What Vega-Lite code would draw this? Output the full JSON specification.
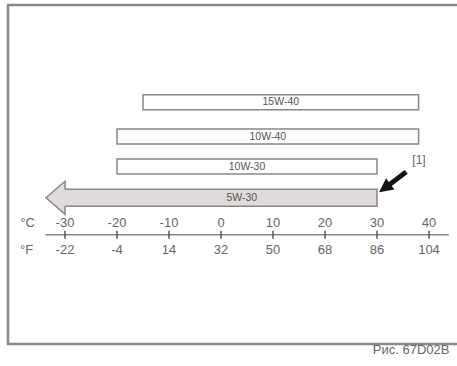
{
  "$schema": "https://vega.github.io/schema/vega-lite/v6.json",
  "width": 460,
  "height": 339,
  "autosize": {"type": "none"},
  "padding": {"left": 8, "top": 5, "right": 0, "bottom": 22},
  "config": {
    "view": {"stroke": "#8c8888", "strokeWidth": 2.5},
    "text": {"font": "Liberation Sans", "color": "#555555"}
  },
  "datasets": {
    "grades": [
      {"grade": "15W-40", "level": 4, "lo": -15, "hi": 38},
      {"grade": "10W-40", "level": 2.92, "lo": -20, "hi": 38},
      {"grade": "10W-30", "level": 1.98, "lo": -20, "hi": 30}
    ],
    "arrowgrade": [
      {"grade": "5W-30", "level": 1, "lo": -30, "hi": 30, "labelAt": 4}
    ],
    "temps": [
      {"c": -30, "f": -22},
      {"c": -20, "f": -4},
      {"c": -10, "f": 14},
      {"c": 0, "f": 32},
      {"c": 10, "f": 50},
      {"c": 20, "f": 68},
      {"c": 30, "f": 86},
      {"c": 40, "f": 104}
    ]
  },
  "layer": [
    {
      "data": {"name": "grades"},
      "mark": {"type": "bar", "height": 15, "fill": "white", "stroke": "#8a8686", "strokeWidth": 1.5, "cornerRadius": 0},
      "encoding": {
        "x": {"field": "lo", "type": "quantitative", "scale": {"domain": [-40.96, 47.5], "nice": false, "zero": false}, "axis": null},
        "x2": {"field": "hi"},
        "y": {"field": "level", "type": "quantitative", "scale": {"domain": [-3.432, 6.894], "nice": false, "zero": false}, "axis": null}
      }
    },
    {
      "data": {"name": "grades"},
      "transform": [{"calculate": "(datum.lo + datum.hi) / 2", "as": "mid"}],
      "mark": {"type": "text", "fontSize": 10.5, "baseline": "middle", "align": "center", "color": "#555555"},
      "encoding": {
        "x": {"field": "mid", "type": "quantitative"},
        "y": {"field": "level", "type": "quantitative"},
        "text": {"field": "grade"}
      }
    },
    {
      "data": {"name": "arrowgrade"},
      "mark": {"type": "bar", "height": 17, "fill": "#e0dbda", "stroke": "#8a8686", "strokeWidth": 1.5},
      "encoding": {
        "x": {"field": "lo", "type": "quantitative"},
        "x2": {"field": "hi"},
        "y": {"field": "level", "type": "quantitative"}
      }
    },
    {
      "data": {"name": "arrowgrade"},
      "mark": {"type": "point", "shape": "M -1.15 0 L 0 -1 L 0 -0.45 L 0.3 -0.45 L 0.3 0.45 L 0 0.45 L 0 1 Z", "size": 1089, "filled": true, "fill": "#e0dbda", "strokeWidth": 0, "opacity": 1},
      "encoding": {
        "x": {"field": "lo", "type": "quantitative"},
        "y": {"field": "level", "type": "quantitative"}
      }
    },
    {
      "data": {"name": "arrowgrade"},
      "mark": {"type": "point", "shape": "M 0 -0.515 L 0 -1 L -1.15 0 L 0 1 L 0 0.515", "size": 1089, "filled": false, "fill": null, "stroke": "#8a8686", "strokeWidth": 1.5, "opacity": 1},
      "encoding": {
        "x": {"field": "lo", "type": "quantitative"},
        "y": {"field": "level", "type": "quantitative"}
      }
    },
    {
      "data": {"name": "arrowgrade"},
      "mark": {"type": "text", "fontSize": 10.5, "baseline": "middle", "align": "center", "color": "#555555"},
      "encoding": {
        "x": {"field": "labelAt", "type": "quantitative"},
        "y": {"field": "level", "type": "quantitative"},
        "text": {"field": "grade"}
      }
    },
    {
      "data": {"values": [{"note": "[1]"}]},
      "mark": {"type": "point", "shape": "M 0 0 L 15.43 -2.88 L 12.71 -6.47 L 28.61 -18.51 L 25.59 -22.49 L 9.69 -10.45 L 6.97 -14.04 Z", "size": 4, "filled": true, "fill": "#111111", "strokeWidth": 0, "opacity": 1},
      "encoding": {
        "x": {"datum": 30.4},
        "y": {"datum": 1.17}
      }
    },
    {
      "data": {"values": [{"note": "[1]"}]},
      "mark": {"type": "text", "fontSize": 12, "align": "left", "baseline": "middle", "color": "#666666"},
      "encoding": {
        "x": {"datum": 36.8},
        "y": {"datum": 2.2},
        "text": {"field": "note"}
      }
    },
    {
      "data": {"values": [{"a": 1}]},
      "mark": {"type": "rule", "color": "#8a8686", "strokeWidth": 1.5},
      "encoding": {
        "x": {"datum": -33.8},
        "x2": {"datum": 43.8},
        "y": {"datum": -0.157}
      }
    },
    {
      "data": {"name": "temps"},
      "mark": {"type": "tick", "orient": "vertical", "size": 8, "thickness": 1.5, "color": "#555555", "opacity": 1},
      "encoding": {
        "x": {"field": "c", "type": "quantitative"},
        "y": {"datum": -0.157}
      }
    },
    {
      "data": {"name": "temps"},
      "mark": {"type": "text", "fontSize": 13, "align": "center", "baseline": "middle", "dy": -11.5, "color": "#666666"},
      "encoding": {
        "x": {"field": "c", "type": "quantitative"},
        "y": {"datum": -0.157},
        "text": {"field": "c", "type": "nominal"}
      }
    },
    {
      "data": {"name": "temps"},
      "mark": {"type": "text", "fontSize": 13, "align": "center", "baseline": "middle", "dy": 15, "color": "#666666"},
      "encoding": {
        "x": {"field": "c", "type": "quantitative"},
        "y": {"datum": -0.157},
        "text": {"field": "f", "type": "nominal"}
      }
    },
    {
      "data": {"values": [{"u": "°C"}]},
      "mark": {"type": "text", "fontSize": 13, "align": "center", "baseline": "middle", "dy": -11.5, "color": "#666666"},
      "encoding": {
        "x": {"datum": -37.2},
        "y": {"datum": -0.157},
        "text": {"field": "u"}
      }
    },
    {
      "data": {"values": [{"u": "°F"}]},
      "mark": {"type": "text", "fontSize": 13, "align": "center", "baseline": "middle", "dy": 15, "color": "#666666"},
      "encoding": {
        "x": {"datum": -37.4},
        "y": {"datum": -0.157},
        "text": {"field": "u"}
      }
    },
    {
      "data": {"values": [{"cap": "Рис. 67D02B"}]},
      "mark": {"type": "text", "fontSize": 13, "align": "left", "baseline": "middle", "color": "#666666"},
      "encoding": {
        "x": {"datum": 29.2},
        "y": {"datum": -3.77},
        "text": {"field": "cap"}
      }
    }
  ]
}
